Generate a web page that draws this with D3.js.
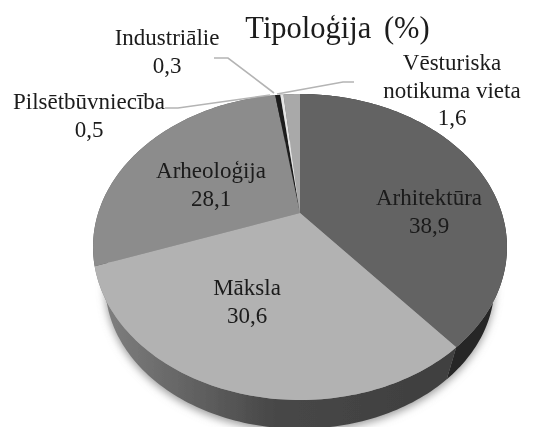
<!DOCTYPE html>
<html>
<head>
<meta charset="utf-8">
<script src="https://cdn.jsdelivr.net/npm/d3@7"></script>
<style>
  html, body { margin: 0; padding: 0; background: #fff; overflow: hidden; }
  text { font-family: "Liberation Serif", serif; fill: #1a1a1a; }
</style>
</head>
<body>
<div id="chart"></div>
<script>
// Tipoloģija pie, 3D look built from a perspective projection of the disc
const categories = ['Arhitektūra', 'Māksla', 'Arheoloģija', 'Pilsētbūvniecība', 'Industriālie', 'Vēsturiska notikuma vieta'];
const values = [38.9, 30.6, 28.1, 0.5, 0.3, 1.6];
const valueLabels = ['38,9', '30,6', '28,1', '0,5', '0,3', '1,6'];
const topColors = ['#636363', '#b2b2b2', '#8c8c8c', '#1f1f1f', '#e4e4e4', '#a9a9a9'];
const sideColors = ['#262626', 'url(#side-grad)', '#5c5c5c', '#222222', '#777777', '#666666'];

const width = 536, height = 427;

const svg = d3.select('#chart').append('svg')
    .attr('width', width)
    .attr('height', height);

const defs = svg.append('defs');
defs.append('filter').attr('id', 'soft')
    .attr('x', '-10%').attr('y', '-10%').attr('width', '120%').attr('height', '120%')
    .append('feGaussianBlur').attr('stdDeviation', 0.6);
defs.append('filter').attr('id', 'shadow')
    .attr('x', '-10%').attr('y', '-10%').attr('width', '120%').attr('height', '120%')
    .append('feGaussianBlur').attr('stdDeviation', 4);
const grad = defs.append('linearGradient').attr('id', 'side-grad')
    .attr('gradientUnits', 'userSpaceOnUse')
    .attr('x1', 100).attr('x2', 450).attr('y1', 0).attr('y2', 0);
grad.append('stop').attr('offset', '0%').attr('stop-color', '#808080');
grad.append('stop').attr('offset', '50%').attr('stop-color', '#474747');
grad.append('stop').attr('offset', '100%').attr('stop-color', '#3f3f3f');

// projection of the unit disc: apex at (300,213), rim from y=94 to y=400
const cx = 300, cy = 213;
const persp = { a: -98.1, c: 0.2222, k: 201.8 };

function topPoint(angle, r = 1) {
    const u = Math.sin(angle) * r, v = Math.cos(angle) * r;
    const w = persp.c * v + 1;
    return [cx + persp.k * u / w, (persp.a * v + cy) / w];
}

function bottomPoint(angle) {
    const p = topPoint(angle);
    return [298 + (p[0] - 298) * 0.94, 285 + (p[1] - 247) * 0.94];
}

function sampleAngles(d) {
    const n = Math.max(2, Math.ceil((d.endAngle - d.startAngle) / 0.02));
    return d3.range(n + 1).map(i => d.startAngle + (d.endAngle - d.startAngle) * i / n);
}

const pieData = d3.pie().sort(null).value(d => d)(values);
const line = d3.line();

const chart = svg.append('g').attr('filter', 'url(#soft)');

// shadow below the disc
chart.append('path')
    .attr('d', line(d3.range(0, Math.PI * 2, 0.05).map(a => {
        const p = bottomPoint(a);
        return [p[0], p[1] + 3];
    })) + 'Z')
    .attr('fill', '#9a9a9a')
    .attr('filter', 'url(#shadow)');

// side walls
chart.selectAll('.side')
    .data(pieData)
    .join('path')
    .attr('class', 'side')
    .attr('fill', (d, i) => sideColors[i])
    .attr('d', d => {
        const angles = sampleAngles(d);
        return line(angles.map(a => topPoint(a)).concat(angles.slice().reverse().map(bottomPoint))) + 'Z';
    });

// top faces
chart.selectAll('.slice')
    .data(pieData)
    .join('path')
    .attr('class', 'slice')
    .attr('fill', (d, i) => topColors[i])
    .attr('d', d => line([[cx, cy]].concat(sampleAngles(d).map(a => topPoint(a)))) + 'Z');

// leader lines
const leaderLines = [
    [[165, 108], [178, 108], [270, 95]],
    [[214, 58], [228, 58], [274, 93]],
    [[354, 82], [343, 82], [277, 94]]
];
chart.selectAll('.leader')
    .data(leaderLines)
    .join('path')
    .attr('class', 'leader')
    .attr('fill', 'none')
    .attr('stroke', '#b4b4b4')
    .attr('stroke-width', 1.6)
    .attr('d', line);

// labels: [x, first baseline]
const labelPos = [
    [429, 205],
    [247, 295],
    [211, 178],
    [89, 109],
    [167, 45],
    [452, 70]
];
const labelGroup = svg.append('g').attr('filter', 'url(#soft)');

categories.forEach((name, i) => {
    let lines = [name, valueLabels[i]];
    if (i === 5) lines = ['Vēsturiska', 'notikuma vieta', valueLabels[i]];
    const t = labelGroup.append('text')
        .attr('text-anchor', 'middle')
        .style('font-size', '23px');
    lines.forEach((s, j) => {
        t.append('tspan')
            .attr('x', labelPos[i][0])
            .attr('y', labelPos[i][1] + j * 27.5)
            .text(s);
    });
});

labelGroup.append('text')
    .attr('x', 337.5)
    .attr('y', 38)
    .attr('text-anchor', 'middle')
    .style('font-size', '30.5px')
    .style('word-spacing', '5px')
    .text('Tipoloģija (%)');
</script>
</body>
</html>
